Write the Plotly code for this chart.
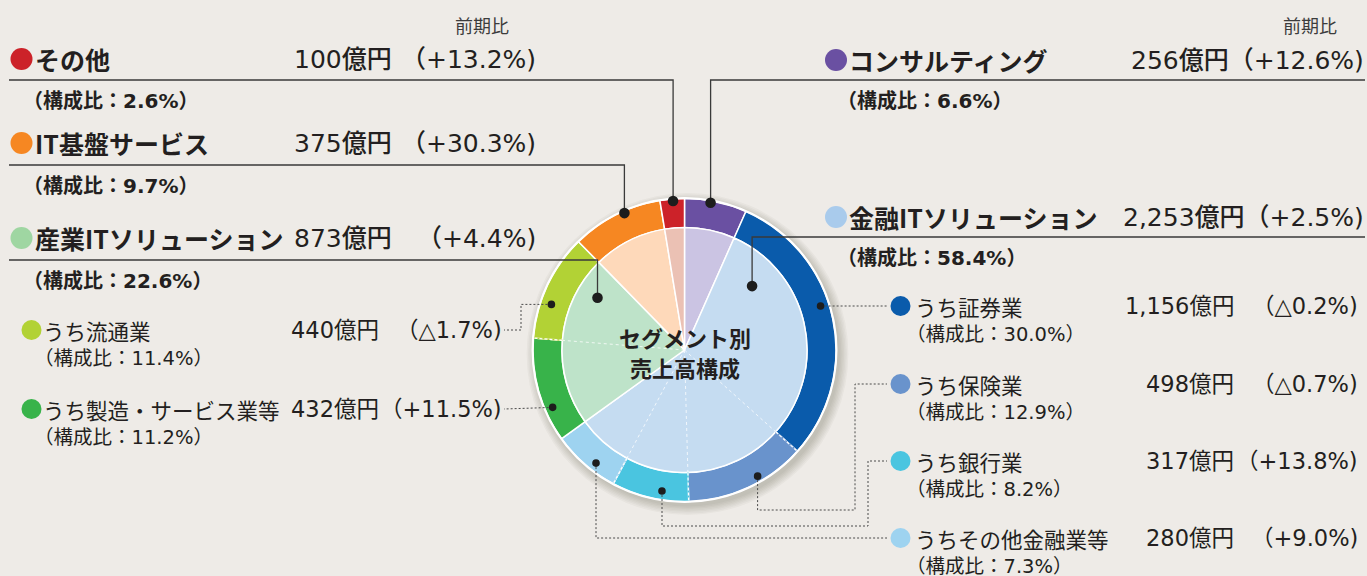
import math
import plotly.graph_objects as go

# ---------------- data ----------------
segments = ["コンサルティング", "金融ITソリューション", "産業ITソリューション", "IT基盤サービス", "その他"]
segment_sales = [256, 2253, 873, 375, 100]          # 億円
segment_share = ["6.6%", "58.4%", "22.6%", "9.7%", "2.6%"]
segment_change = ["+12.6%", "+2.5%", "+4.4%", "+30.3%", "+13.2%"]

sub_names = ["コンサルティング", "うち証券業", "うち保険業", "うち銀行業", "うちその他金融業等",
             "うち製造・サービス業等", "うち流通業", "IT基盤サービス", "その他"]
sub_parent = [0, 1, 1, 1, 1, 2, 2, 3, 4]
sub_sales = [256, 1156, 498, 317, 280, 432, 440, 375, 100]   # 億円
sub_share = [None, "30.0%", "12.9%", "8.2%", "7.3%", "11.2%", "11.4%", None, None]
sub_change = [None, "△0.2%", "△0.7%", "+13.8%", "+9.0%", "+11.5%", "△1.7%", None, None]

center_lines = ["セグメント別", "売上高構成"]
yoy_header = "前期比"

# ---------------- style ----------------
W, H = 1367, 576
BG = "#eeebe7"
TXT = "#231f20"
FONT = "Noto Sans CJK JP"
NUMFONT = "DejaVu Sans, Noto Sans CJK JP"
CX, CY = 684.5, 350.0
R_OUT, R_IN = 151.5, 122.5

inner_colors = ["#cbc4e3", "#c5dcf1", "#bee3c9", "#fed9ba", "#ebc1b4"]
ring_colors = ["#6a50a2", "#0a5bab", "#6993cc", "#4ac5e0", "#9ed3f0",
               "#38b34a", "#b2d235", "#f68722", "#cc2229"]
legend_main_colors = ["#6a50a2", "#a9cbec", "#9fd6a2", "#f68722", "#cc2229"]

fig = go.Figure()

def dom(r):
    return dict(x=[(CX - r) / W, (CX + r) / W], y=[(H - CY - r) / H, (H - CY + r) / H])

fig.add_trace(go.Pie(values=sub_sales, labels=sub_names, hole=R_IN / R_OUT, sort=False,
                     direction="clockwise", rotation=0, textinfo="none", hoverinfo="skip",
                     marker=dict(colors=ring_colors, line=dict(color="white", width=1.5)),
                     domain=dom(R_OUT), showlegend=False))
fig.add_trace(go.Pie(values=segment_sales, labels=["inner_" + s for s in segments], sort=False,
                     direction="clockwise", rotation=0, textinfo="none", hoverinfo="skip",
                     marker=dict(colors=inner_colors, line=dict(color="white", width=1.5)),
                     domain=dom(R_IN), showlegend=False))
# invisible trace so the pixel-like cartesian axes exist for shapes/annotations
fig.add_trace(go.Scatter(x=[CX], y=[CY], mode="markers", marker=dict(opacity=0),
                         hoverinfo="skip", showlegend=False))

# ---------------- geometry from data ----------------
sub_total = sum(sub_sales)
seg_total = sum(segment_sales)
sub_start, acc = [], 0
for v in sub_sales:
    sub_start.append(acc / sub_total * 360); acc += v
seg_start, acc = [], 0
for v in segment_sales:
    seg_start.append(acc / seg_total * 360); acc += v

def polar(angle, r):
    a = math.radians(angle)
    return CX + r * math.sin(a), CY - r * math.cos(a)

def sub_point(i, frac, r):
    return polar(sub_start[i] + frac * sub_sales[i] / sub_total * 360, r)

def seg_point(i, frac, r):
    return polar(seg_start[i] + frac * segment_sales[i] / seg_total * 360, r)

shapes = []
annos = []

# soft drop shadow
for k in range(7):
    r = R_OUT + 1 + k * 1.4
    shapes.append(dict(type="circle", xref="x", yref="y", layer="below",
                       x0=CX + 3 - r, x1=CX + 3 + r, y0=CY + 4 - r, y1=CY + 4 + r,
                       fillcolor="rgba(60,50,40,0.035)", line=dict(width=0)))

# faint dashed sub-boundaries inside the inner pie and dashed white joints in the ring
for i in range(1, len(sub_sales)):
    if sub_parent[i] == sub_parent[i - 1]:
        x1, y1 = polar(sub_start[i], R_IN)
        shapes.append(dict(type="line", xref="x", yref="y", x0=CX, y0=CY, x1=x1, y1=y1,
                           line=dict(color="rgba(255,255,255,0.75)", width=1, dash="3px,3px")))
        x2, y2 = polar(sub_start[i], R_OUT)
        shapes.append(dict(type="line", xref="x", yref="y", x0=x1, y0=y1, x1=x2, y1=y2,
                           line=dict(color=ring_colors[i], width=1.6)))
        shapes.append(dict(type="line", xref="x", yref="y", x0=x1, y0=y1, x1=x2, y1=y2,
                           line=dict(color="white", width=1.2, dash="3px,2px")))

# white outer rim
shapes.append(dict(type="circle", xref="x", yref="y", x0=CX - R_OUT - 0.5, x1=CX + R_OUT + 0.5,
                   y0=CY - R_OUT - 0.5, y1=CY + R_OUT + 0.5, line=dict(color="white", width=2)))

def path(pts):
    return "M " + " L ".join(f"{x:.1f},{y:.1f}" for x, y in pts)

def dot(x, y, r, color):
    shapes.append(dict(type="circle", xref="x", yref="y", x0=x - r, x1=x + r, y0=y - r, y1=y + r,
                       fillcolor=color, line=dict(width=0)))

def text(x, y, s, size, anchor="left", weight=400, color=TXT, family=FONT, xshift=0):
    annos.append(dict(x=x, y=y, xref="x", yref="y", text=s, showarrow=False, xanchor=anchor,
                      yanchor="middle", borderpad=0, borderwidth=0, xshift=xshift,
                      font=dict(family=family, size=size, color=color, weight=weight)))

# ---------------- main segment labels ----------------
# (segment index, side, row y, underline y, anchor kind, index, frac, radius)
main_layout = [
    (4, "L", 59, 80, "sub", 8, 0.53, 149.5),
    (3, "L", 143, 165, "sub", 7, 0.59, 149.5),
    (2, "L", 238, 260, "seg", 2, 0.82, 101.5),
    (0, "R", 60, 80, "sub", 0, 0.42, 149.5),
    (1, "R", 217, 237, "seg", 1, 0.108, 93),
]
MS = 25
for si, side, ry, uy, kind, idx, frac, rad in main_layout:
    px, py = (sub_point if kind == "sub" else seg_point)(idx, frac, rad)
    if side == "L":
        pts = [(9, uy), (px, uy), (px, py)]
        dx, lx = 21.5, 35
        text(392, ry, f"{segment_sales[si]:,}億円", MS, "right", 500, family=NUMFONT)
        text(536, ry, f"（{segment_change[si]})", MS, "right", 500, family=NUMFONT)
    else:
        pts = [(1365, uy), (px, uy), (px, py)]
        dx, lx = 836, 849
        text(1364, ry, f"{segment_sales[si]:,}億円（{segment_change[si]})", MS, "right", 500,
             family=NUMFONT)
    shapes.append(dict(type="path", xref="x", yref="y", path=path(pts),
                       line=dict(color="#3a3a3a", width=1.3)))
    dot(px, py, 5.3, "#1d1d1d")
    dot(dx, ry, 11, legend_main_colors[si])
    text(lx, ry, segments[si], 25, "left", 700)
    text(lx - 2, uy + 21, f"（構成比：{segment_share[si]}）", 20, "left", 700,
         family="DejaVu Sans, Noto Sans CJK JP", xshift=-0.5 * 20)

text(482, 25, yoy_header, 18, "center", 400, "#3c3c3c")
text(1310, 25, yoy_header, 18, "center", 400, "#3c3c3c")

# ---------------- sub segment labels ----------------
# (sub index, side, row y, frac, radius, bend_y, bend_x)
sub_layout = [
    (6, "L", 330, 0.35, 140.7, None, 521),
    (5, "L", 409, 0.305, 143.8, None, None),
    (1, "R", 306, 0.446, 143, None, None),
    (2, "R", 384, 0.387, 145.8, 510, 855),
    (3, "R", 461, 0.36, 142.8, 526, 868),
    (4, "R", 538, 0.383, 143.6, 538, None),
]
SS = 22.5
for i, side, ry, frac, rad, by, bx in sub_layout:
    px, py = sub_point(i, frac, rad)
    pts = [(px, py)]
    ycur = py
    if by is not None:
        pts.append((px, by)); ycur = by
    if bx is not None:
        pts.append((bx, ycur)); pts.append((bx, ry))
    if side == "L":
        pts.append((504, ry))
        dx, lx = 31.5, 43
        text(379, ry, f"{sub_sales[i]:,}億円", SS, "right", family=NUMFONT)
        text(502, ry, f"（{sub_change[i]})", SS, "right", family=NUMFONT)
    else:
        pts.append((887, ry))
        dx, lx = 900.5, 915
        text(1234, ry, f"{sub_sales[i]:,}億円", SS, "right", family=NUMFONT)
        text(1358, ry, f"（{sub_change[i]})", SS, "right", family=NUMFONT)
    shapes.append(dict(type="path", xref="x", yref="y", path=path(pts),
                       line=dict(color="#4a4a4a", width=1, dash="2px,2px")))
    dot(px, py, 3.8, "#1d1d1d")
    dot(dx, ry, 10, ring_colors[i])
    text(lx, ry, sub_names[i], 21.5, "left")
    text(lx + 1, ry + 28, f"（構成比：{sub_share[i]}）", 19.5, "left",
         family=NUMFONT, xshift=-0.5 * 19.5)

# ---------------- centre title ----------------
text(CX, CY - 13, center_lines[0], 22, "center", 700)
text(CX, CY + 17, center_lines[1], 22, "center", 700)

fig.update_layout(
    width=W, height=H, margin=dict(l=0, r=0, t=0, b=0),
    paper_bgcolor=BG, plot_bgcolor=BG,
    xaxis=dict(range=[0, W], visible=False, fixedrange=True),
    yaxis=dict(range=[H, 0], visible=False, fixedrange=True),
    shapes=shapes, annotations=annos, showlegend=False,
)
fig.write_html("out.html", config={"displayModeBar": False},
               post_script="document.body.style.margin='0';document.body.style.overflow='hidden';")
